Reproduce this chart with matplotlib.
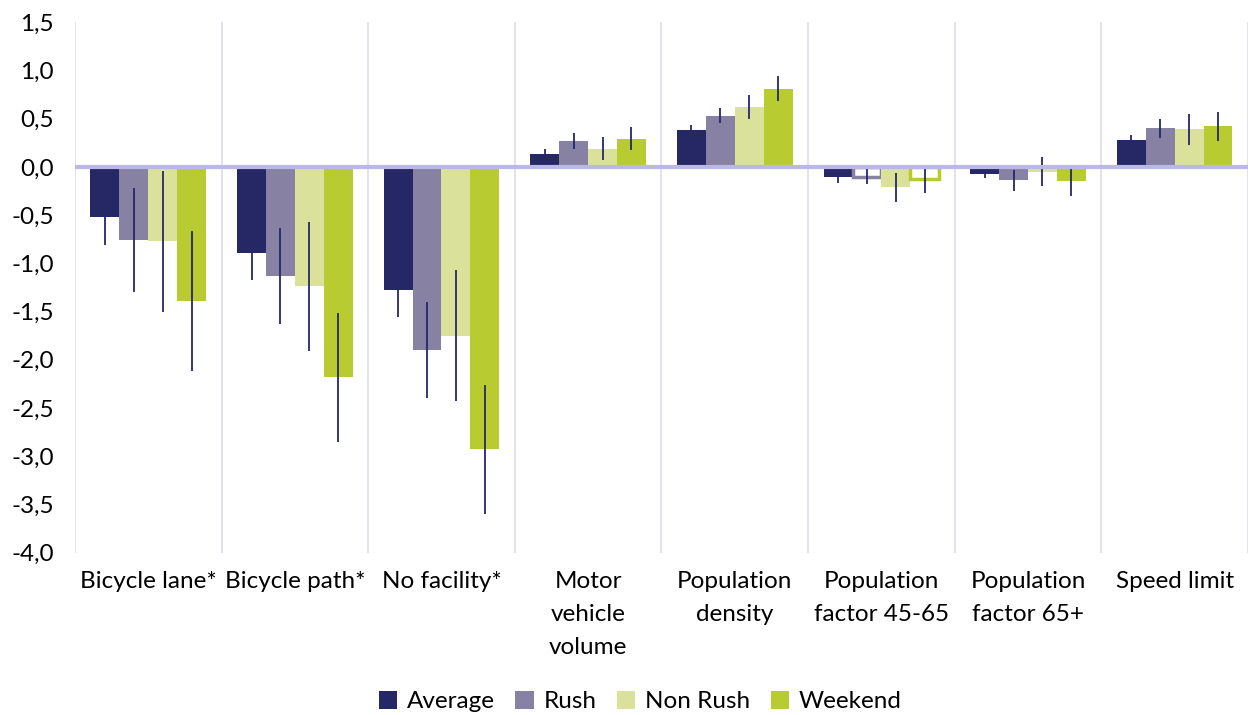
import numpy as np
import matplotlib.pyplot as plt
from matplotlib.ticker import FuncFormatter, MultipleLocator

plt.rcParams['font.family'] = ['Lato', 'DejaVu Sans']

categories = ["Bicycle lane*", "Bicycle path*", "No facility*", "Motor\nvehicle\nvolume",
              "Population\ndensity", "Population\nfactor 45-65", "Population\nfactor 65+",
              "Speed limit"]
series = ["Average", "Rush", "Non Rush", "Weekend"]

average = [-0.52, -0.89, -1.28, 0.13, 0.38, -0.11, -0.07, 0.28]
rush = [-0.76, -1.13, -1.90, 0.27, 0.53, -0.10, -0.14, 0.40]
non_rush = [-0.77, -1.24, -1.75, 0.19, 0.62, -0.21, -0.05, 0.39]
weekend = [-1.39, -2.18, -2.93, 0.29, 0.81, -0.13, -0.15, 0.42]

err_average = [0.29, 0.28, 0.28, 0.05, 0.05, 0.06, 0.05, 0.05]
err_rush = [0.54, 0.50, 0.50, 0.08, 0.08, 0.08, 0.11, 0.10]
err_non_rush = [0.73, 0.67, 0.68, 0.12, 0.12, 0.15, 0.15, 0.16]
err_weekend = [0.73, 0.67, 0.67, 0.12, 0.13, 0.14, 0.15, 0.15]

# bars drawn as outline only in the original (Excel quirk)
hollow = {(1, 5), (3, 5)}

colors = ["#262866", "#8782a3", "#d9e19a", "#b8cc32"]
values = [average, rush, non_rush, weekend]
errors = [err_average, err_rush, err_non_rush, err_weekend]

fig = plt.figure(figsize=(12.48, 7.15), dpi=100)
ax = fig.add_axes([0.060, 0.227, 0.940, 0.742])

x = np.arange(len(categories))
w = 0.197
for i in range(4):
    pos = x + (i - 1.5) * w
    for j in range(len(categories)):
        if (i, j) in hollow:
            ax.bar(pos[j], values[i][j], w, facecolor="white", edgecolor=colors[i],
                   linewidth=2.5, zorder=2)
        else:
            ax.bar(pos[j], values[i][j], w, color=colors[i], zorder=2,
                   label=series[i] if j == 0 else None)
    ax.errorbar(pos, values[i], yerr=errors[i], fmt="none", ecolor="#262866",
                elinewidth=1.3, capsize=0, zorder=3)

for b in np.arange(len(categories) + 1) - 0.5:
    ax.axvline(b, color="#dcdcf0", linewidth=1.2, zorder=0)
ax.axhline(0, color="#b9b9e3", linewidth=3, zorder=4)

ax.set_xlim(-0.5, len(categories) - 0.5)
ax.set_ylim(-4.0, 1.5)
ax.yaxis.set_major_locator(MultipleLocator(0.5))
ax.yaxis.set_major_formatter(FuncFormatter(lambda v, p: f"{v:.1f}".replace(".", ",")))
ax.set_xticks(x)
ax.set_xticklabels(categories, fontsize=17.5, linespacing=1.72, va="top")
ax.tick_params(axis="y", labelsize=17.5, length=0, pad=15)
ax.tick_params(axis="x", length=0, pad=13)
for s in ax.spines.values():
    s.set_visible(False)

handles, labels = ax.get_legend_handles_labels()
fig.legend(handles, labels, loc="lower center", ncol=4, frameon=False, fontsize=17.5,
           bbox_to_anchor=(0.513, -0.027), handlelength=0.75, handleheight=0.75,
           handletextpad=0.4, columnspacing=0.85)

fig.savefig("out.png", dpi=100)
